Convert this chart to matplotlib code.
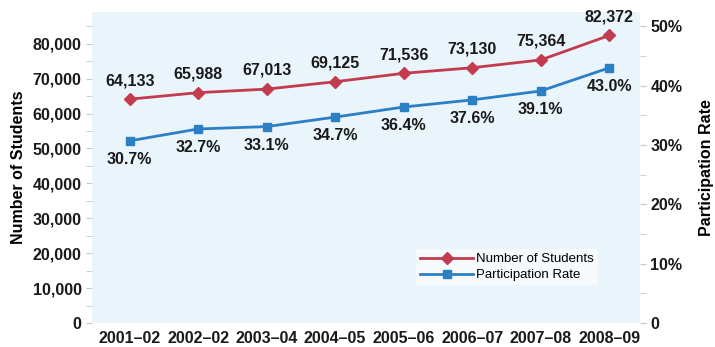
import matplotlib
matplotlib.use("Agg")
import matplotlib.pyplot as plt
from matplotlib.ticker import FuncFormatter, MultipleLocator

YEARS    = ["2001–02", "2002–02", "2003–04", "2004–05", "2005–06", "2006–07", "2007–08", "2008–09"]
STUDENTS = [64133, 65988, 67013, 69125, 71536, 73130, 75364, 82372]
RATE     = [30.7, 32.7, 33.1, 34.7, 36.4, 37.6, 39.1, 43.0]

RED  = "#C23B4E"
BLUE = "#2C7FC4"
FONT = ["Liberation Sans Narrow", "Liberation Sans", "DejaVu Sans"]

plt.rcParams["font.family"] = FONT
plt.rcParams["font.weight"] = "bold"

fig = plt.figure(figsize=(7.15, 3.47), dpi=100)
ax = fig.add_axes([92 / 715, 24 / 347, 548 / 715, 311 / 347])
ax2 = ax.twinx()

x = list(range(len(YEARS)))
ax.set_facecolor("#EAF4FB")
ax.plot(x, STUDENTS, color=RED, lw=2, marker="D", ms=6, label="Number of Students", zorder=3)
ax2.plot(x, RATE, color=BLUE, lw=2, marker="s", ms=6, label="Participation Rate", zorder=3)

for i, v in enumerate(STUDENTS):
    ax.annotate(f"{v:,}", (i, v), xytext=(0, 8), textcoords="offset points",
                ha="center", va="bottom", fontsize=11.5, fontweight="bold", color="#1a1a1a")
for i, v in enumerate(RATE):
    ax2.annotate(f"{v:.1f}%", (i, v), xytext=(0, -8), textcoords="offset points",
                 ha="center", va="top", fontsize=11.5, fontweight="bold", color="#1a1a1a")

ax.set_xlim(-0.55, 7.45)
ax.set_ylim(0, 89100)
ax2.set_ylim(0, 89100 / 1700)

ax.yaxis.set_major_locator(MultipleLocator(10000))
ax.yaxis.set_minor_locator(MultipleLocator(5000))
ax.yaxis.set_major_formatter(FuncFormatter(lambda v, p: f"{int(v):,}"))
ax2.yaxis.set_major_locator(MultipleLocator(10))
ax2.yaxis.set_minor_locator(MultipleLocator(5))
ax2.yaxis.set_major_formatter(FuncFormatter(lambda v, p: "0" if v == 0 else f"{int(v)}%"))

ax.set_xticks(x)
ax.set_xticklabels(YEARS)

for a in (ax, ax2):
    for s in a.spines.values():
        s.set_visible(False)
    a.tick_params(axis="both", which="both", length=4, color="#c8c8c8", labelsize=11.5,
                  labelcolor="#1a1a1a")
ax.tick_params(axis="x", length=0, pad=6)

ax.set_ylabel("Number of Students", fontsize=11.5, fontweight="bold", labelpad=5)
ax2.set_ylabel("Participation Rate", fontsize=11.5, fontweight="bold", labelpad=12)

h1, l1 = ax.get_legend_handles_labels()
h2, l2 = ax2.get_legend_handles_labels()
leg = ax2.legend(h1 + h2, l1 + l2, loc="lower left", bbox_to_anchor=(0.58, 0.1),
                 frameon=True, handlelength=4, handletextpad=0.2,
                 borderpad=0.3, labelspacing=0.3,
                 prop={"family": FONT, "weight": "normal", "size": 9.5})
leg.get_frame().set_facecolor("white")
leg.get_frame().set_edgecolor("none")
leg.get_frame().set_alpha(0.6)

fig.savefig("out.png", dpi=100)
